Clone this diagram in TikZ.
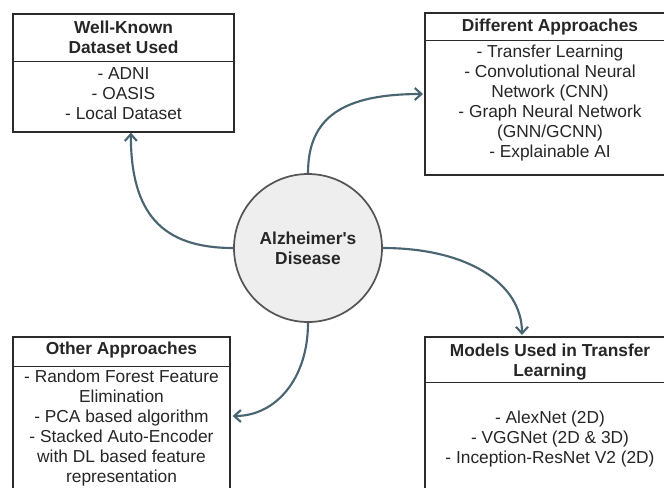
\documentclass[tikz,border=0pt]{standalone}
\usepackage{fontspec}
\setmainfont{Liberation Sans}[Ligatures=TeXOff]
\usetikzlibrary{arrows.meta}
\definecolor{conncol}{HTML}{4A6572}
\definecolor{txtcol}{HTML}{262626}
\definecolor{boxline}{HTML}{2B2B2B}
\definecolor{circfill}{HTML}{EEEEEE}
\definecolor{circline}{HTML}{555555}
\tikzset{
  box/.style={draw=boxline, line width=1pt, fill=white, inner sep=0pt},
  divider/.style={draw=boxline, line width=1pt},
  head/.style={font=\fontsize{13pt}{15pt}\selectfont\bfseries, text=txtcol, align=center, inner sep=0pt},
  body/.style={font=\fontsize{13pt}{15pt}\selectfont, text=txtcol, align=center, inner sep=0pt},
  hub/.style={circle, draw=circline, line width=1.3pt, fill=circfill, minimum size=111pt, inner sep=0pt,
    font=\fontsize{13pt}{15pt}\selectfont\bfseries, text=txtcol, align=center},
  conn/.style={draw=conncol, line width=1.6pt, -{Straight Barb[length=5pt,width=9pt,line width=1.6pt]}}
}
\begin{document}
\begin{tikzpicture}[x=0.75pt,y=-0.75pt]
\useasboundingbox (0,0) rectangle (664,487);
\clip (0,0) rectangle (664,487);
\fill[white] (0,0) rectangle (664,487);

% boxes
\node[box, minimum width=165.75pt, minimum height=88.5pt] (tl) at (123.5,73) {};
\node[box, minimum width=187.5pt, minimum height=121.5pt] (tr) at (550,94) {};
\node[box, minimum width=162.75pt, minimum height=118.5pt] (bl) at (121.5,416) {};
\node[box, minimum width=187.5pt, minimum height=122.25pt] (br) at (550,418.5) {};

\draw[divider] ([yshift=-36pt]tl.north west) -- ([yshift=-36pt]tl.north east);
\draw[divider] ([yshift=-21pt]tr.north west) -- ([yshift=-21pt]tr.north east);
\draw[divider] ([yshift=-22.5pt]bl.north west) -- ([yshift=-22.5pt]bl.north east);
\draw[divider] ([yshift=-34.5pt]br.north west) -- ([yshift=-34.5pt]br.north east);

% texts
\node[head] (tlh) at (123.5,37) {Well-Known\\Dataset Used};
\node[body] (tlb) at (123.5,93.5) {- ADNI\\- OASIS\\- Local Dataset};

\node[head] (trh) at (550,27) {Different Approaches};
\node[body] (trb) at (550,103.5) {- Transfer Learning\\- Convolutional Neural\\Network (CNN)\\- Graph Neural Network\\(GNN/GCNN)\\- Explainable AI};

\node[head] (blh) at (121.5,350) {Other Approaches};
\node[body] (blb) at (121.5,428) {- Random Forest Feature\\Elimination\\- PCA based algorithm\\- Stacked Auto-Encoder\\with DL based feature\\representation};

\node[head] (brh) at (550,362) {Models Used in Transfer\\Learning};
\node[body] (brb) at (550,439) {- AlexNet (2D)\\- VGGNet (2D \& 3D)\\- Inception-ResNet V2 (2D)};

% hub
\node[hub] (ad) at (308,248) {Alzheimer's\\Disease};

% connectors
\draw[conn] (ad.west) .. controls +(-72,0) and +(0,80) .. ([xshift=5.5pt]tl.south);
\draw[conn] (ad.north) .. controls +(0,-56) and +(-80,0) .. ([xshift=-1pt]tr.west);
\draw[conn] (ad.east) .. controls +(84,0) and +(0,-52) .. ([xshift=-21pt,yshift=1pt]br.north);
\draw[conn] (ad.south) .. controls +(0,56) and +(43,0) .. ([xshift=1.5pt]bl.east);
\end{tikzpicture}
\end{document}
